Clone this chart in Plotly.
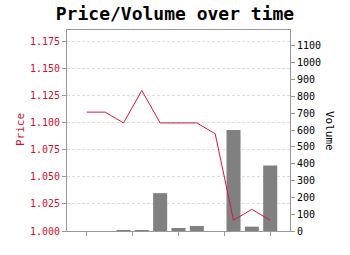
import plotly.graph_objects as go

time_index = list(range(11))
price = [1.110, 1.110, 1.100, 1.130, 1.100, 1.100, 1.100, 1.090, 1.010, 1.020, 1.010]
volume = [0, 0, 3, 3, 225, 18, 30, 0, 600, 26, 390]
x_tick_positions = [0, 2.5, 5, 7.5, 10]
x_tick_labels = ["", "", "", "", ""]

FONT = "DejaVu Sans Mono"
RED = "#d0102e"
LINE_RED = "#dc143c"
AXIS_GREY = "#999999"

fig = go.Figure()
fig.add_trace(go.Bar(x=time_index, y=volume, marker=dict(color="#808080", line=dict(width=0)),
                     yaxis="y", name="Volume"))
fig.add_trace(go.Scatter(x=time_index, y=price, mode="lines", line=dict(color=LINE_RED, width=1),
                         yaxis="y2", name="Price"))

fig.update_layout(
    width=350, height=255,
    margin=dict(l=67, r=60, t=30, b=24),
    paper_bgcolor="white", plot_bgcolor="white",
    showlegend=False,
    bargap=0.235,
    font=dict(family=FONT, size=10, color="black"),
    title=dict(text="<b>Price/Volume over time</b>", x=0.5, xanchor="center",
               y=1 - 14 / 255, yanchor="middle", yref="container",
               font=dict(family=FONT, size=18, color="black")),
    xaxis=dict(range=[-1.08, 11.08], tickvals=x_tick_positions, ticktext=x_tick_labels,
               ticks="outside", ticklen=4, tickcolor=AXIS_GREY, showgrid=False, zeroline=False,
               showline=True, linecolor=AXIS_GREY, linewidth=1, mirror=True),
    yaxis=dict(side="right", range=[0, 1195], tick0=0, dtick=100, ticks="outside", ticklen=4,
               tickcolor=AXIS_GREY, showgrid=False, zeroline=False, showline=True,
               linecolor=AXIS_GREY, linewidth=1, tickfont=dict(family=FONT, size=10, color="black")),
    yaxis2=dict(side="left", overlaying="y", range=[1.0, 1.186], tick0=1.0, dtick=0.025,
                tickformat=".3f", ticks="outside", ticklen=4, tickcolor=AXIS_GREY,
                showgrid=True, gridcolor="#dddddd", griddash="3px,2px", gridwidth=1,
                zeroline=False, showline=True, linecolor=AXIS_GREY, linewidth=1,
                tickfont=dict(family=FONT, size=10, color=RED)),
    annotations=[
        dict(text="Price", xref="paper", yref="paper", x=-47 / 223, y=(231 - 130) / 201,
             xanchor="center", yanchor="middle", textangle=-90, showarrow=False,
             font=dict(family=FONT, size=11, color=RED)),
        dict(text="Volume", xref="paper", yref="paper", x=1 + 40 / 223, y=(231 - 131) / 201,
             xanchor="center", yanchor="middle", textangle=90, showarrow=False,
             font=dict(family=FONT, size=11, color="black")),
    ],
)

fig.write_html("out.html")
